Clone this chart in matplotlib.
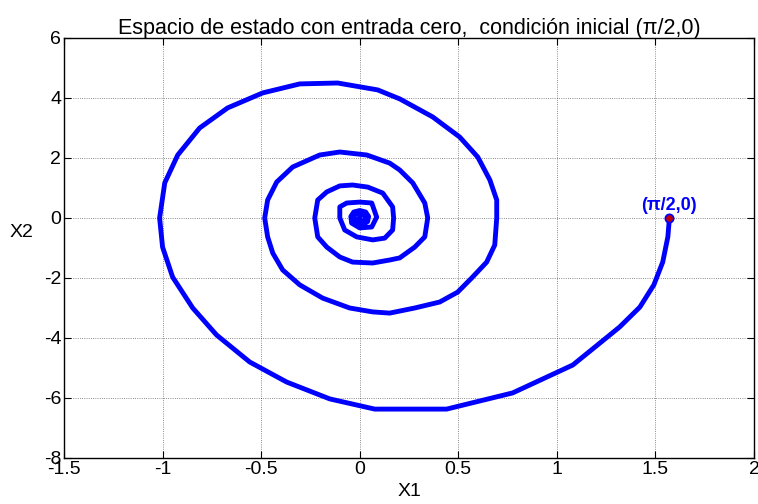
import matplotlib
matplotlib.use('Agg')
import matplotlib.pyplot as plt
import numpy as np

plt.rcParams['font.family'] = ['Liberation Sans', 'DejaVu Sans']
plt.rcParams['axes.unicode_minus'] = False

# trajectory points (x1, x2)
x1 = [1.571, 1.563, 1.537, 1.492, 1.421, 1.319, 1.218, 1.081, 0.776, 0.441,
      0.076, -0.152, -0.370, -0.558, -0.726, -0.847, -0.949, -1.000, -1.015, -0.989,
      -0.923, -0.812, -0.670, -0.492, -0.304, -0.112, 0.091, 0.203, 0.370, 0.507,
      0.599, 0.660, 0.695, 0.695, 0.685, 0.644, 0.568, 0.497, 0.406, 0.279,
      0.152, 0.066, -0.051, -0.188, -0.304, -0.391, -0.441, -0.467, -0.482, -0.467,
      -0.421, -0.340, -0.203, -0.101, 0.036, 0.152, 0.203, 0.269, 0.330, 0.345,
      0.330, 0.279, 0.203, 0.152, 0.066, -0.036, -0.101, -0.167, -0.213, -0.228,
      -0.213, -0.167, -0.101, -0.036, 0.041, 0.117, 0.167, 0.172, 0.167, 0.127,
      0.066, -0.015, -0.076, -0.101, -0.101, -0.066, 0.000, 0.061, 0.086, 0.061,
      0.000, -0.041, -0.045, -0.030, 0.000, 0.030, 0.045, 0.040, 0.020, 0.000,
      -0.025, -0.035, -0.020, 0.010, 0.030, 0.025, 0.005, -0.010, 0.000]
x2 = [0.00, -0.63, -1.47, -2.23, -2.97, -3.63, -4.17, -4.90, -5.83, -6.37,
      -6.37, -6.03, -5.47, -4.80, -3.90, -3.00, -1.97, -0.97, 0.00, 1.17,
      2.10, 3.00, 3.67, 4.17, 4.47, 4.50, 4.27, 3.97, 3.37, 2.70,
      2.03, 1.27, 0.60, 0.00, -0.90, -1.47, -2.00, -2.47, -2.80, -3.00,
      -3.17, -3.13, -3.00, -2.67, -2.23, -1.73, -1.17, -0.63, 0.00, 0.60,
      1.20, 1.70, 2.10, 2.20, 2.10, 1.83, 1.60, 1.17, 0.50, 0.00,
      -0.63, -0.97, -1.33, -1.40, -1.50, -1.47, -1.30, -0.97, -0.63, 0.00,
      0.60, 0.87, 1.07, 1.10, 1.03, 0.83, 0.37, 0.00, -0.40, -0.67,
      -0.73, -0.63, -0.40, 0.00, 0.37, 0.50, 0.53, 0.50, 0.03, -0.30,
      -0.33, -0.17, 0.05, 0.20, 0.25, 0.20, 0.05, -0.12, -0.20, -0.20,
      -0.12, 0.03, 0.15, 0.14, 0.03, -0.08, -0.10, -0.02, 0.00]

x_ticks = [-1.5, -1, -0.5, 0, 0.5, 1, 1.5, 2]
x_labels = ['-1.5', '-1', '-0.5', '0', '0.5', '1', '1.5', '2']
y_ticks = [-8, -6, -4, -2, 0, 2, 4, 6]
y_labels = ['-8', '-6', '-4', '-2', '0', '2', '4', '6']

fig = plt.figure(figsize=(7.58, 5.04), dpi=100)
ax = fig.add_axes([64 / 758, 1 - 458 / 504, 690 / 758, 420 / 504])

ax.plot(x1, x2, color='#0000ff', linewidth=3.5, solid_joinstyle='round',
        solid_capstyle='round')
ax.plot([np.pi / 2], [0], 'o', markersize=6, markerfacecolor='#c00000',
        markeredgecolor='#0000ff', markeredgewidth=1.2)
ax.text(np.pi / 2, 0.12, '(\u03c0/2,0)', color='#0000ff', fontweight='bold',
        fontsize=13, ha='center', va='bottom')

ax.set_xlim(-1.5, 2)
ax.set_ylim(-8, 6)
ax.set_xticks(x_ticks)
ax.set_xticklabels(x_labels)
ax.set_yticks(y_ticks)
ax.set_yticklabels(y_labels)
ax.tick_params(direction='in', top=True, right=True, labelsize=14, length=5)
ax.tick_params(axis='x', pad=2)
ax.tick_params(axis='y', pad=2)
ax.grid(True, color='black', linestyle=':', linewidth=0.6, alpha=0.6)
for s in ax.spines.values():
    s.set_linewidth(1.0)

ax.set_title('Espacio de estado con entrada cero,  condici\u00f3n inicial (\u03c0/2,0)',
             fontsize=15.5, pad=3)
ax.set_xlabel('X1', fontsize=14, labelpad=4)
ax.set_ylabel('X2', fontsize=14, rotation=0, va='center', ha='center')
ax.yaxis.set_label_coords(-0.061, 0.538)

fig.savefig('out.png', dpi=100)
